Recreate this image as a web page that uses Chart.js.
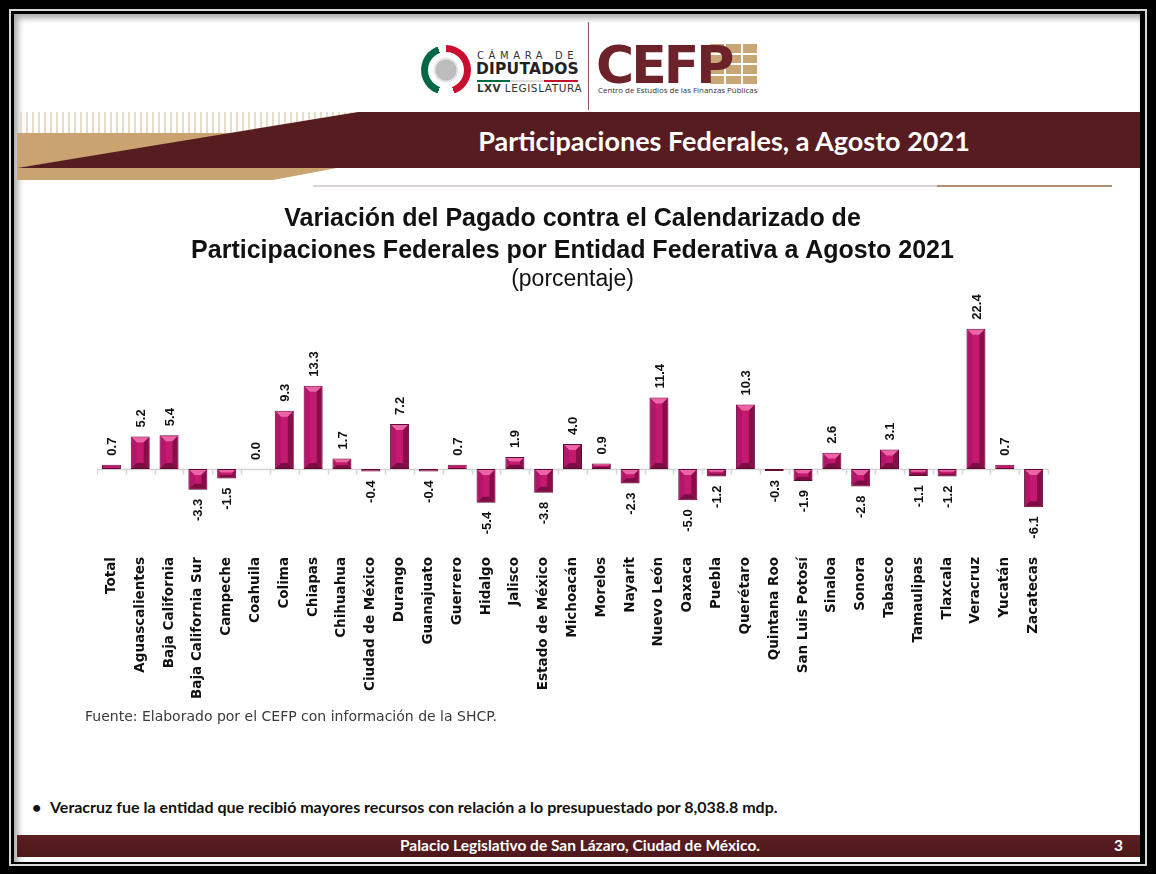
<!DOCTYPE html>
<html lang="es">
<head>
<meta charset="utf-8">
<title>Participaciones Federales, a Agosto 2021</title>
<script src="https://cdn.jsdelivr.net/npm/chart.js@4.4.1/dist/chart.umd.min.js"></script>
<style>
  html, body { margin: 0; padding: 0; }
  body { width: 1156px; height: 874px; background: #000; position: relative; overflow: hidden; font-family: "Liberation Sans", Arial, sans-serif; }
  .frameLine { position: absolute; left: 9px; top: 9px; width: 1138px; height: 857px; border: 2px solid #d8d8d8; box-sizing: border-box; }
  .panel { position: absolute; left: 14px; top: 14px; width: 1126px; height: 848px; background: #fff; box-shadow: inset 4px 4px 6px rgba(0,0,0,0.35); overflow: hidden; }
  .abs { position: absolute; }
  /* logos */
  .seal { left: 407px; top: 31px; width: 50px; height: 50px; border-radius: 50%;
          background: conic-gradient(#c8102e 0deg 160deg, #fff 160deg 200deg, #006847 200deg 340deg, #fff 340deg 360deg); }
  .seal::after { content: ""; position: absolute; left: 7px; top: 7px; width: 36px; height: 36px; border-radius: 50%; background: radial-gradient(circle, #bdbdbd 0 10px, #e6e6e6 11px 12px, #fff 13px); }
  .camara { left: 463px; top: 36px; font-family: "DejaVu Sans", sans-serif; font-size: 10px; letter-spacing: 4.6px; color: #333; }
  .diputados { left: 462px; top: 46px; font-family: "DejaVu Sans", sans-serif; font-weight: bold; font-size: 15.5px; color: #222; letter-spacing: 0.2px; }
  .flag { left: 463px; top: 66px; width: 101px; height: 2px; background: linear-gradient(90deg, #006847 0 33%, #ddd 33% 66%, #c8102e 66%); }
  .lxv { left: 463px; top: 68px; font-family: "DejaVu Sans", sans-serif; font-size: 10.5px; color: #333; letter-spacing: 0.6px; }
  .lxv b { letter-spacing: 0.3px; }
  .divider { left: 574px; top: 8px; width: 1px; height: 88px; background: #8a5a5a; }
  .cefp { left: 582px; top: 23px; font-family: "DejaVu Sans", sans-serif; font-weight: bold; font-size: 52px; line-height: 56px; color: #6b2229; letter-spacing: -3px; z-index: 1; }
  .grid { left: 696px; top: 30px; width: 47px; height: 40px; display: grid; grid-template-columns: repeat(3, 1fr); grid-template-rows: repeat(4, 1fr); gap: 2px; }
  .grid span { background: #c9a675; }
  .centro { left: 584px; top: 71px; font-family: "Open Sans", sans-serif; font-size: 7.9px; color: #333; }
  /* header band */
  .band { left: 0; top: 0; }
  .bandTitle { left: 340px; width: 740px; top: 110px; text-align: center; font-family: "Lato", sans-serif; font-weight: bold; font-size: 27px; color: #fff; }
  .chartBox { left: 83px; top: 186px; width: 964px; height: 510px; }
  .fuente { left: 71px; top: 694px; font-family: "DejaVu Sans", sans-serif; font-size: 14px; color: #3a3a3a; }
  .bullet { left: 36px; top: 783px; font-family: "Lato", sans-serif; font-weight: bold; font-size: 16px; color: #111; }
  .bullet .dot { position: absolute; left: -18px; top: 0; }
  .footer { left: 3px; top: 821px; width: 1123px; height: 22px; background: linear-gradient(#5d1f22, #4c181b); }
  .footer .t { position: absolute; left: 0; width: 1126px; top: 1px; text-align: center; font-family: "Lato", sans-serif; font-weight: bold; font-size: 15.5px; color: #fff; }
  .footer .n { position: absolute; right: 17px; top: 1px; font-family: "Lato", sans-serif; font-weight: bold; font-size: 15.5px; color: #fff; }
</style>
</head>
<body>
<div class="frameLine"></div>
<div class="panel">
  <div class="abs seal"></div>
  <div class="abs camara">CÁMARA DE</div>
  <div class="abs diputados">DIPUTADOS</div>
  <div class="abs flag"></div>
  <div class="abs lxv"><b>LXV</b> LEGISLATURA</div>
  <div class="abs divider"></div>
  <div class="abs grid"><span></span><span></span><span></span><span></span><span></span><span></span><span></span><span></span><span></span><span></span><span></span><span></span></div>
  <div class="abs cefp">CEFP</div>
  <div class="abs centro">Centro de Estudios de las Finanzas Públicas</div>

  <svg class="abs band" width="1126" height="190" viewBox="0 0 1126 190">
    <defs>
      <pattern id="stripes" width="6" height="22" patternUnits="userSpaceOnUse">
        <rect x="0" y="0" width="2" height="22" fill="#e9dcc6"/>
      </pattern>
    </defs>
    <rect x="3" y="98" width="340" height="21" fill="url(#stripes)"/>
    <polygon points="3,119 230,119 3,154" fill="#c9a470"/>
    <polygon points="3,154 323,154 259,166 3,166" fill="#c9a470"/>
    <polygon points="344,98 1126,98 1126,154 3,154" fill="#571c1f"/>
    <line x1="299" y1="172" x2="1098" y2="172" stroke="#ddd0d0" stroke-width="2"/>
    <line x1="923" y1="172" x2="1098" y2="172" stroke="#b39273" stroke-width="2"/>
  </svg>
  <div class="abs bandTitle">Participaciones Federales, a Agosto 2021</div>

  <div class="abs chartBox"><canvas id="chart" width="964" height="510"></canvas></div>

  <div class="abs fuente">Fuente: Elaborado por el CEFP con información de la SHCP.</div>
  <div class="abs bullet"><span class="dot">•</span>Veracruz fue la entidad que recibió mayores recursos con relación a lo presupuestado por 8,038.8 mdp.</div>
  <div class="abs footer"><span class="t">Palacio Legislativo de San Lázaro, Ciudad de México.</span><span class="n">3</span></div>
</div>

<script>
// categorias y valores (%)
const entidades = [
  "Total", "Aguascalientes", "Baja California", "Baja California Sur", "Campeche",
  "Coahuila", "Colima", "Chiapas", "Chihuahua", "Ciudad de México", "Durango",
  "Guanajuato", "Guerrero", "Hidalgo", "Jalisco", "Estado de México", "Michoacán",
  "Morelos", "Nayarit", "Nuevo León", "Oaxaca", "Puebla", "Querétaro",
  "Quintana Roo", "San Luis Potosí", "Sinaloa", "Sonora", "Tabasco",
  "Tamaulipas", "Tlaxcala", "Veracruz", "Yucatán", "Zacatecas"
];
const variacion = [
  0.7, 5.2, 5.4, -3.3, -1.5,
  0.0, 9.3, 13.3, 1.7, -0.4, 7.2,
  -0.4, 0.7, -5.4, 1.9, -3.8, 4.0,
  0.9, -2.3, 11.4, -5.0, -1.2, 10.3,
  -0.3, -1.9, 2.6, -2.8, 3.1,
  -1.1, -1.2, 22.4, 0.7, -6.1
];
const titulo = ["Variación del Pagado contra el Calendarizado de", "Participaciones Federales por Entidad Federativa a Agosto 2021"];
const subtitulo = "(porcentaje)";

const MAGENTA = "#c4196f";

// linea del cero con marcas entre categorias
const zeroLine = {
  id: "zeroLine",
  beforeDatasetsDraw(chart) {
    const { ctx, chartArea, scales: { x, y } } = chart;
    const y0 = Math.round(y.getPixelForValue(0)) + 0.5;
    ctx.save();
    ctx.strokeStyle = "#d4d4d4";
    ctx.lineWidth = 1.5;
    ctx.beginPath();
    ctx.moveTo(chartArea.left, y0);
    ctx.lineTo(chartArea.right, y0);
    for (let i = 0; i <= entidades.length; i++) {
      const px = Math.round(x.getPixelForValue(i - 0.5)) + 0.5;
      ctx.moveTo(px, y0);
      ctx.lineTo(px, y0 + 5);
    }
    ctx.stroke();
    ctx.restore();
  }
};

// efecto biselado en las barras
const bevel = {
  id: "bevel",
  afterDatasetsDraw(chart) {
    const { ctx } = chart;
    const meta = chart.getDatasetMeta(0);
    ctx.save();
    meta.data.forEach((bar) => {
      const l = bar.x - bar.width / 2 + 1, r = bar.x + bar.width / 2 - 1;
      const t = Math.min(bar.y, bar.base) + 1, b = Math.max(bar.y, bar.base) - 1;
      const h = b - t;
      if (h < 3) return;
      const d = Math.min(5, h / 3);
      const poly = (pts, color) => {
        ctx.fillStyle = color;
        ctx.beginPath();
        ctx.moveTo(pts[0][0], pts[0][1]);
        for (let k = 1; k < pts.length; k++) ctx.lineTo(pts[k][0], pts[k][1]);
        ctx.closePath();
        ctx.fill();
      };
      poly([[l, t], [r, t], [r - d, t + d], [l + d, t + d]], "#ea64a6");
      poly([[l, b], [r, b], [r - d, b - d], [l + d, b - d]], "#7a0e42");
      poly([[l, t], [l + d, t + d], [l + d, b - d], [l, b]], "#b3156a");
      poly([[r, t], [r - d, t + d], [r - d, b - d], [r, b]], "#860e4b");
    });
    ctx.restore();
  }
};

// etiquetas de valor verticales
const valueLabels = {
  id: "valueLabels",
  afterDraw(chart) {
    const { ctx } = chart;
    const meta = chart.getDatasetMeta(0);
    ctx.save();
    ctx.font = "bold 13px 'Liberation Sans', Arial, sans-serif";
    ctx.fillStyle = "#111";
    ctx.textBaseline = "middle";
    meta.data.forEach((bar, i) => {
      const v = variacion[i];
      const pos = v >= 0;
      ctx.save();
      ctx.translate(bar.x, pos ? Math.min(bar.y, bar.base) - 9 : Math.max(bar.y, bar.base) + 9);
      ctx.rotate(-Math.PI / 2);
      ctx.textAlign = pos ? "left" : "right";
      ctx.fillText(v.toFixed(1), 0, 1);
      ctx.restore();
    });
    ctx.restore();
  }
};

new Chart(document.getElementById("chart"), {
  type: "bar",
  data: {
    labels: entidades,
    datasets: [{
      data: variacion,
      backgroundColor: MAGENTA,
      borderColor: "#5e0a33",
      borderWidth: 1,
      borderSkipped: false,
      barPercentage: 0.66,
      categoryPercentage: 1.0
    }]
  },
  options: {
    responsive: false,
    animation: false,
    layout: { padding: { left: 0, right: 13, top: 0, bottom: 0 } },
    plugins: {
      legend: { display: false },
      tooltip: { enabled: false },
      title: {
        display: true,
        text: titulo,
        color: "#111",
        font: { family: "'Liberation Sans', Arial, sans-serif", size: 25, weight: "bold", lineHeight: 1.28 },
        padding: { top: 3, bottom: 0 }
      },
      subtitle: {
        display: true,
        text: subtitulo,
        color: "#111",
        font: { family: "'Liberation Sans', Arial, sans-serif", size: 23, weight: "normal", lineHeight: 1.1 },
        padding: { top: 0, bottom: 0 }
      }
    },
    scales: {
      x: {
        grid: { display: false, drawTicks: false },
        border: { display: false },
        ticks: {
          color: "#111",
          font: { family: "'DejaVu Sans', sans-serif", size: 13.5, weight: "bold" },
          minRotation: 90,
          maxRotation: 90,
          autoSkip: false,
          padding: 7
        },
        afterFit(scale) { scale.height = 160; }
      },
      y: {
        display: false,
        min: -12.92,
        max: 28.2
      }
    }
  },
  plugins: [zeroLine, bevel, valueLabels]
});
</script>
</body>
</html>
